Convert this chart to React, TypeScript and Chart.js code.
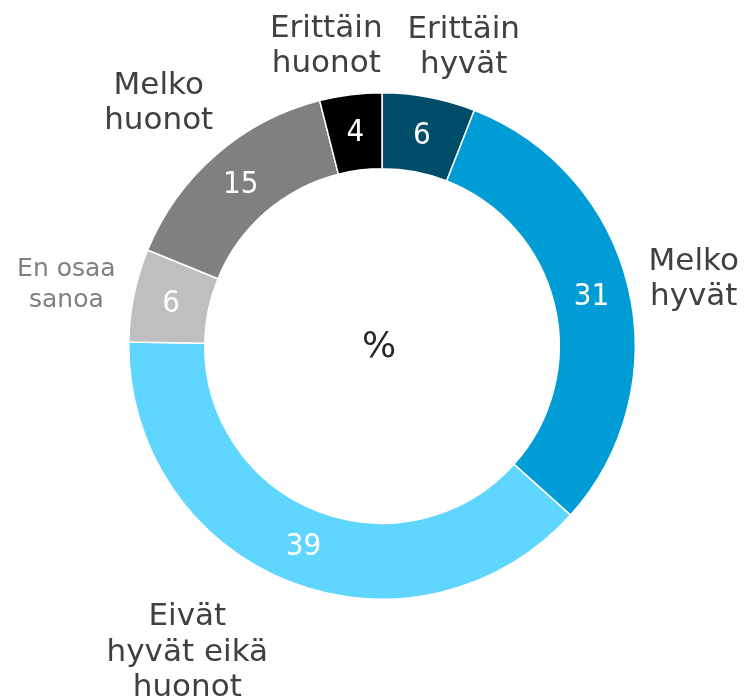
import React, { useEffect, useRef } from "react";
import { Chart, registerables } from "chart.js";

Chart.register(...registerables);

const categories: string[][] = [
  ["Erittäin", "hyvät"],
  ["Melko", "hyvät"],
  ["Eivät", "hyvät eikä", "huonot"],
  ["En osaa", "sanoa"],
  ["Melko", "huonot"],
  ["Erittäin", "huonot"],
];
const values: number[] = [6, 31, 39, 6, 15, 4];
const colors: string[] = ["#004D6A", "#009CD5", "#5FD6FF", "#BFBFBF", "#808080", "#000000"];
const centerText = "%";

// label layout helpers (style, not data)
const labelNudgeDeg = [4.6, 1.4, 11, -0.6, -1.6, -3.4];
const labelNudgeR = [-6, 0, 8, 0, 0, -7];
const labelColor = ["#404040", "#404040", "#404040", "#808080", "#404040", "#404040"];
const labelFontSize = [31, 31, 31, 25, 31, 31];
const labelLineH = [35, 35, 35.5, 31, 35, 35];
const FONT = '"DejaVu Sans", Verdana, sans-serif';
const NUM_FONT = '"DejaVu Sans Condensed", "DejaVu Sans", sans-serif';

const labelPlugin = {
  id: "donutLabels",
  afterDatasetsDraw(chart: any) {
    const ctx = chart.ctx as CanvasRenderingContext2D;
    const meta = chart.getDatasetMeta(0);
    ctx.save();
    ctx.textAlign = "center";
    ctx.textBaseline = "middle";
    let cx = 0, cy = 0;
    meta.data.forEach((arc: any, i: number) => {
      const p = arc.getProps(["startAngle", "endAngle", "outerRadius", "innerRadius", "x", "y"], true);
      cx = p.x; cy = p.y;
      const mid = (p.startAngle + p.endAngle) / 2;
      // value inside
      const rMid = (p.outerRadius + p.innerRadius) / 2;
      ctx.fillStyle = "#FFFFFF";
      ctx.font = `31px ${NUM_FONT}`;
      ctx.fillText(String(values[i]), p.x + rMid * Math.cos(mid), p.y + rMid * Math.sin(mid) + 1);
      // category outside
      const lines = categories[i];
      const fs = labelFontSize[i];
      const lh = labelLineH[i];
      ctx.font = `${fs}px ${FONT}`;
      const w = Math.max(...lines.map((l) => ctx.measureText(l).width));
      const h = lh * lines.length;
      const a = mid + (labelNudgeDeg[i] * Math.PI) / 180;
      const ux = Math.cos(a), uy = Math.sin(a);
      const r = p.outerRadius + 14 + labelNudgeR[i] + Math.abs(ux) * w / 2 + Math.abs(uy) * h / 2;
      const lx = p.x + r * ux;
      const ly = p.y + r * uy;
      ctx.fillStyle = labelColor[i];
      lines.forEach((l, k) => {
        ctx.fillText(l, lx, ly - h / 2 + lh * (k + 0.5));
      });
    });
    ctx.fillStyle = "#262626";
    ctx.font = `36px ${FONT}`;
    ctx.fillText(centerText, cx - 3, cy + 2);
    ctx.restore();
  },
};

export default function App() {
  const ref = useRef<HTMLCanvasElement | null>(null);
  useEffect(() => {
    if (!ref.current) return;
    const chart = new Chart(ref.current, {
      type: "doughnut",
      data: {
        labels: categories.map((c) => c.join(" ")),
        datasets: [
          {
            data: values,
            backgroundColor: colors,
            borderColor: "#FFFFFF",
            borderWidth: 1.5,
          },
        ],
      },
      options: {
        responsive: false,
        animation: false,
        cutout: "70%",
        layout: { padding: { left: 128, right: 108, top: 92, bottom: 98 } },
        plugins: { legend: { display: false }, tooltip: { enabled: false } },
      },
      plugins: [labelPlugin],
    });
    return () => chart.destroy();
  }, []);
  return (
    <div style={{ position: "fixed", left: 0, top: 0, width: 744, height: 698, background: "#FFFFFF" }}>
      <canvas ref={ref} width={744} height={698} />
    </div>
  );
}
